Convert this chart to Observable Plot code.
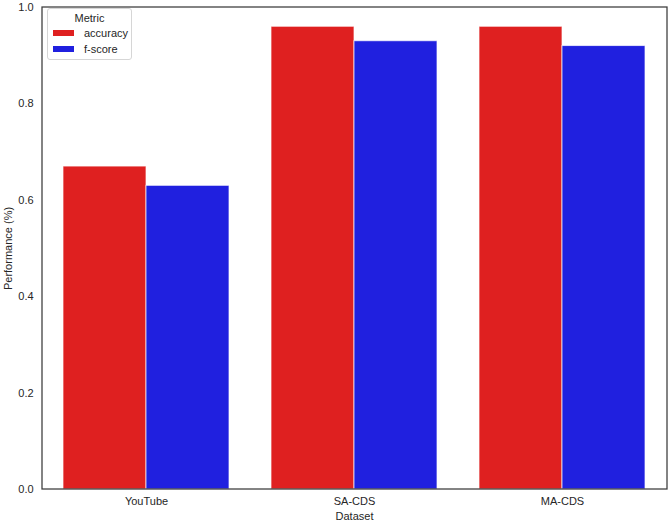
<!DOCTYPE html>
<html>
<head>
<meta charset="utf-8">
<script src="https://cdn.jsdelivr.net/npm/d3@7"></script>
<script src="https://cdn.jsdelivr.net/npm/@observablehq/plot@0.6"></script>
<style>
  html, body { margin: 0; padding: 0; background: #fff; }
  #chart { position: relative; width: 669px; height: 523px; font-family: "Liberation Sans", Arial, sans-serif; }
  #legend { position: absolute; left: 47px; top: 8px; width: 85px; height: 52px; box-sizing: border-box;
    border: 1px solid #d6d6d6; border-radius: 3px; background: rgba(255,255,255,0.85);
    font-size: 11px; color: #262626; }
  #legend .title { text-align: center; margin-top: 2px; line-height: 14px; }
  #legend .item { display: flex; align-items: center; height: 16px; }
  #legend .sw { width: 21px; height: 6px; margin-left: 5px; margin-right: 10px; }
</style>
</head>
<body>
<div id="chart"></div>
<script>
const datasets = ["YouTube", "SA-CDS", "MA-CDS"];
const metrics = ["accuracy", "f-score"];
const accuracy = [0.67, 0.96, 0.96];
const fscore = [0.63, 0.93, 0.92];
const colors = ["#df2020", "#2020df"];
const yTicks = [0, 0.2, 0.4, 0.6, 0.8, 1.0];

const data = [];
datasets.forEach((d, i) => {
  data.push({dataset: d, metric: metrics[0], value: accuracy[i]});
  data.push({dataset: d, metric: metrics[1], value: fscore[i]});
});

const W = 669, H = 523, ML = 42, MR = 2, MT = 7, MB = 34;
const PI = 0.2, PO = 0.1;
// the y axis attaches to the first facet; shift it back to the plot's left edge
const facetStep = (W - ML - MR) / (datasets.length - PI + 2 * PO);
const outerGap = PO * facetStep;

const plot = Plot.plot({
  width: W, height: H,
  marginLeft: ML, marginRight: MR, marginTop: MT, marginBottom: MB,
  style: {fontFamily: "'Liberation Sans', Arial, sans-serif", fontSize: "11px", color: "#262626", background: "#fff"},
  fx: {domain: datasets, paddingInner: PI, paddingOuter: PO, label: "Dataset", labelAnchor: "center", tickSize: 0, tickPadding: 8, labelOffset: 30, axis: "bottom", labelArrow: "none"},
  x: {domain: metrics, padding: 0, axis: null},
  y: {domain: [0, 1], axis: null},
  color: {domain: metrics, range: colors},
  marks: [
    Plot.barY(data, {fx: "dataset", x: "metric", y: "value", fill: "metric", stroke: "#ffffff", strokeOpacity: 0.7, strokeWidth: 1}),
    Plot.axisY({ticks: yTicks, tickFormat: d3.format(".1f"), tickSize: 0, tickPadding: 9, dx: -outerGap,
      label: "Performance (%)", labelAnchor: "center", labelOffset: 38 + outerGap, labelArrow: "none"})
  ]
});

const chart = document.getElementById("chart");
chart.appendChild(plot);

// axes frame (spine box) around the whole plot area
d3.select(plot).append("rect")
  .attr("x", ML).attr("y", MT)
  .attr("width", W - ML - MR).attr("height", H - MT - MB)
  .attr("fill", "none").attr("stroke", "#3a3a3a").attr("stroke-width", 1.25);

// legend inside the plot, top-left
const legend = document.createElement("div");
legend.id = "legend";
legend.innerHTML = `<div class="title">Metric</div>` +
  metrics.map((m, i) => `<div class="item"><span class="sw" style="background:${colors[i]}"></span><span>${m}</span></div>`).join("");
chart.appendChild(legend);
</script>
</body>
</html>
